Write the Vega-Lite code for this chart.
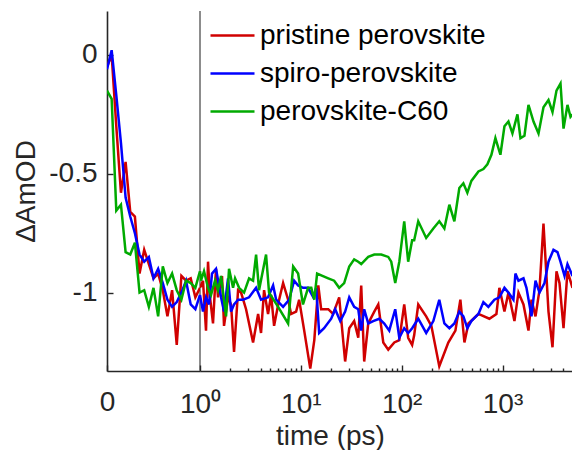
{
  "$schema": "https://vega.github.io/schema/vega-lite/v6.json",
  "background": "white",
  "padding": {"left": 12, "top": 10, "right": 0, "bottom": 0},
  "bounds": "flush",
  "spacing": 0,
  "config": {
    "view": {"stroke": null},
    "font": "Liberation Sans",
    "axis": {
      "labelFont": "Liberation Sans", "titleFont": "Liberation Sans",
      "labelFontSize": 28, "titleFontSize": 28, "titleFontWeight": "normal",
      "labelColor": "#262626", "titleColor": "#262626",
      "domainColor": "#262626", "tickColor": "#262626",
      "domainWidth": 1.6, "tickWidth": 1.4, "grid": false,
      "labelFlush": false, "labelOverlap": false
    },
    "legend": {
      "labelFont": "Liberation Sans", "labelFontSize": 28, "labelColor": "#000000",
      "symbolType": "stroke", "symbolSize": 1936, "symbolStrokeWidth": 2.5,
      "rowPadding": -10, "labelOffset": 4, "padding": 0, "labelLimit": 400
    }
  },
  "datasets": {
    "d": [
      {"s":"pristine perovskite","t":0,"v":-0.05},{"s":"pristine perovskite","t":0.05,"v":0.0},{"s":"pristine perovskite","t":0.1,"v":-0.3},{"s":"pristine perovskite","t":0.15,"v":-0.58},{"s":"pristine perovskite","t":0.2,"v":-0.45},{"s":"pristine perovskite","t":0.25,"v":-0.66},{"s":"pristine perovskite","t":0.3,"v":-0.68},{"s":"pristine perovskite","t":0.35,"v":-0.92},{"s":"pristine perovskite","t":0.4,"v":-0.82},{"s":"pristine perovskite","t":0.45,"v":-0.88},{"s":"pristine perovskite","t":0.5,"v":-0.94},{"s":"pristine perovskite","t":0.55,"v":-0.92},{"s":"pristine perovskite","t":0.6,"v":-0.99},{"s":"pristine perovskite","t":0.65,"v":-1.1},{"s":"pristine perovskite","t":0.7,"v":-0.99},{"s":"pristine perovskite","t":0.75,"v":-1.22},{"s":"pristine perovskite","t":0.8,"v":-0.93},{"s":"pristine perovskite","t":0.85,"v":-0.95},{"s":"pristine perovskite","t":0.9,"v":-0.94},{"s":"pristine perovskite","t":0.95,"v":-1.02},{"s":"pristine perovskite","t":1,"v":-0.98},
      {"s":"pristine perovskite","t":1.071,"v":-0.95},{"s":"pristine perovskite","t":1.147,"v":-1.16},{"s":"pristine perovskite","t":1.201,"v":-0.87},{"s":"pristine perovskite","t":1.257,"v":-1.02},{"s":"pristine perovskite","t":1.346,"v":-1.13},{"s":"pristine perovskite","t":1.442,"v":-0.9},{"s":"pristine perovskite","t":1.509,"v":-1.02},{"s":"pristine perovskite","t":1.653,"v":-0.93},{"s":"pristine perovskite","t":1.731,"v":-1.14},{"s":"pristine perovskite","t":1.897,"v":-1.02},{"s":"pristine perovskite","t":2.032,"v":-1.05},{"s":"pristine perovskite","t":2.176,"v":-1.25},{"s":"pristine perovskite","t":2.385,"v":-0.99},{"s":"pristine perovskite","t":2.554,"v":-1.0},{"s":"pristine perovskite","t":2.863,"v":-1.07},{"s":"pristine perovskite","t":3.36,"v":-1.21},{"s":"pristine perovskite","t":3.77,"v":-1.09},{"s":"pristine perovskite","t":4.03,"v":-1.17},{"s":"pristine perovskite","t":4.32,"v":-0.99},{"s":"pristine perovskite","t":4.73,"v":-1.09},{"s":"pristine perovskite","t":5.07,"v":-1.01},{"s":"pristine perovskite","t":5.43,"v":-1.14},{"s":"pristine perovskite","t":6.09,"v":-1.03},{"s":"pristine perovskite","t":6.67,"v":-0.96},{"s":"pristine perovskite","t":7.48,"v":-1.03},{"s":"pristine perovskite","t":8.01,"v":-1.09},{"s":"pristine perovskite","t":8.98,"v":-1.08},{"s":"pristine perovskite","t":9.62,"v":-1.03},{"s":"pristine perovskite","t":10.8,"v":-1.16},{"s":"pristine perovskite","t":12.4,"v":-1.32},{"s":"pristine perovskite","t":13.6,"v":-1.2},{"s":"pristine perovskite","t":14.9,"v":-0.97},{"s":"pristine perovskite","t":15.9,"v":-1.07},{"s":"pristine perovskite","t":18.7,"v":-1.07},{"s":"pristine perovskite","t":20.9,"v":-1.09},{"s":"pristine perovskite","t":24.0,"v":-1.02},{"s":"pristine perovskite","t":27.5,"v":-1.29},{"s":"pristine perovskite","t":30.2,"v":-1.15},{"s":"pristine perovskite","t":33.8,"v":-1.12},{"s":"pristine perovskite","t":37.1,"v":-1.19},{"s":"pristine perovskite","t":39.7,"v":-0.97},{"s":"pristine perovskite","t":42.5,"v":-1.29},{"s":"pristine perovskite","t":46.6,"v":-1.13},{"s":"pristine perovskite","t":53.5,"v":-1.08},{"s":"pristine perovskite","t":58.6,"v":-1.05},{"s":"pristine perovskite","t":65.7,"v":-1.21},{"s":"pristine perovskite","t":73.6,"v":-1.24},{"s":"pristine perovskite","t":84.5,"v":-1.21},{"s":"pristine perovskite","t":94.7,"v":-1.2},{"s":"pristine perovskite","t":106,"v":-1.05},{"s":"pristine perovskite","t":116,"v":-1.19},{"s":"pristine perovskite","t":127,"v":-1.22},{"s":"pristine perovskite","t":133,"v":-1.18},{"s":"pristine perovskite","t":146,"v":-1.05},{"s":"pristine perovskite","t":175,"v":-1.1},{"s":"pristine perovskite","t":197,"v":-1.14},{"s":"pristine perovskite","t":236,"v":-1.31},{"s":"pristine perovskite","t":290,"v":-1.21},{"s":"pristine perovskite","t":341,"v":-1.16},{"s":"pristine perovskite","t":382,"v":-1.03},{"s":"pristine perovskite","t":419,"v":-1.21},{"s":"pristine perovskite","t":459,"v":-1.13},{"s":"pristine perovskite","t":577,"v":-1.09},{"s":"pristine perovskite","t":741,"v":-1.11},{"s":"pristine perovskite","t":870,"v":-1.09},{"s":"pristine perovskite","t":931,"v":-0.98},{"s":"pristine perovskite","t":1045,"v":-1.08},{"s":"pristine perovskite","t":1145,"v":-1.0},{"s":"pristine perovskite","t":1313,"v":-1.12},{"s":"pristine perovskite","t":1439,"v":-1.0},{"s":"pristine perovskite","t":1614,"v":-1.05},{"s":"pristine perovskite","t":1809,"v":-1.16},{"s":"pristine perovskite","t":1938,"v":-1.03},{"s":"pristine perovskite","t":2124,"v":-1.1},{"s":"pristine perovskite","t":2325,"v":-0.99},{"s":"pristine perovskite","t":2548,"v":-0.71},{"s":"pristine perovskite","t":2857,"v":-1.08},{"s":"pristine perovskite","t":3131,"v":-1.23},{"s":"pristine perovskite","t":3430,"v":-0.91},{"s":"pristine perovskite","t":3674,"v":-0.96},{"s":"pristine perovskite","t":4027,"v":-1.15},{"s":"pristine perovskite","t":4406,"v":-0.91},{"s":"pristine perovskite","t":4943,"v":-0.98},
      {"s":"spiro-perovskite","t":0,"v":-0.06},{"s":"spiro-perovskite","t":0.05,"v":0.02},{"s":"spiro-perovskite","t":0.1,"v":-0.17},{"s":"spiro-perovskite","t":0.15,"v":-0.37},{"s":"spiro-perovskite","t":0.2,"v":-0.6},{"s":"spiro-perovskite","t":0.25,"v":-0.68},{"s":"spiro-perovskite","t":0.3,"v":-0.75},{"s":"spiro-perovskite","t":0.35,"v":-0.84},{"s":"spiro-perovskite","t":0.4,"v":-0.87},{"s":"spiro-perovskite","t":0.45,"v":-0.85},{"s":"spiro-perovskite","t":0.5,"v":-0.94},{"s":"spiro-perovskite","t":0.55,"v":-0.9},{"s":"spiro-perovskite","t":0.6,"v":-0.96},{"s":"spiro-perovskite","t":0.65,"v":-1.03},{"s":"spiro-perovskite","t":0.7,"v":-1.06},{"s":"spiro-perovskite","t":0.75,"v":-1.04},{"s":"spiro-perovskite","t":0.8,"v":-1.0},{"s":"spiro-perovskite","t":0.85,"v":-0.95},{"s":"spiro-perovskite","t":0.9,"v":-1.05},{"s":"spiro-perovskite","t":0.95,"v":-1.07},{"s":"spiro-perovskite","t":1,"v":-1.01},
      {"s":"spiro-perovskite","t":1.071,"v":-1.08},{"s":"spiro-perovskite","t":1.147,"v":-1.02},{"s":"spiro-perovskite","t":1.229,"v":-1.05},{"s":"spiro-perovskite","t":1.316,"v":-0.92},{"s":"spiro-perovskite","t":1.442,"v":-0.9},{"s":"spiro-perovskite","t":1.617,"v":-1.02},{"s":"spiro-perovskite","t":1.731,"v":-1.08},{"s":"spiro-perovskite","t":1.897,"v":-0.94},{"s":"spiro-perovskite","t":2.032,"v":-1.08},{"s":"spiro-perovskite","t":2.176,"v":-1.05},{"s":"spiro-perovskite","t":2.385,"v":-1.03},{"s":"spiro-perovskite","t":2.673,"v":-1.03},{"s":"spiro-perovskite","t":3.067,"v":-1.02},{"s":"spiro-perovskite","t":3.6,"v":-0.98},{"s":"spiro-perovskite","t":4.03,"v":-1.03},{"s":"spiro-perovskite","t":4.73,"v":-1.02},{"s":"spiro-perovskite","t":5.31,"v":-0.97},{"s":"spiro-perovskite","t":5.69,"v":-1.03},{"s":"spiro-perovskite","t":6.67,"v":-1.06},{"s":"spiro-perovskite","t":7.65,"v":-1.03},{"s":"spiro-perovskite","t":8.58,"v":-0.95},{"s":"spiro-perovskite","t":9.4,"v":-0.97},{"s":"spiro-perovskite","t":10.5,"v":-0.98},{"s":"spiro-perovskite","t":11.8,"v":-0.98},{"s":"spiro-perovskite","t":13.3,"v":-1.02},{"s":"spiro-perovskite","t":14.2,"v":-0.98},{"s":"spiro-perovskite","t":15.2,"v":-1.17},{"s":"spiro-perovskite","t":17.0,"v":-1.15},{"s":"spiro-perovskite","t":20.0,"v":-1.11},{"s":"spiro-perovskite","t":21.9,"v":-1.07},{"s":"spiro-perovskite","t":24.6,"v":-1.12},{"s":"spiro-perovskite","t":27.5,"v":-1.08},{"s":"spiro-perovskite","t":30.2,"v":-1.02},{"s":"spiro-perovskite","t":33.8,"v":-1.06},{"s":"spiro-perovskite","t":37.1,"v":-1.07},{"s":"spiro-perovskite","t":39.7,"v":-1.16},{"s":"spiro-perovskite","t":42.5,"v":-1.07},{"s":"spiro-perovskite","t":46.6,"v":-1.13},{"s":"spiro-perovskite","t":52.2,"v":-1.12},{"s":"spiro-perovskite","t":59.9,"v":-1.11},{"s":"spiro-perovskite","t":67.2,"v":-1.13},{"s":"spiro-perovskite","t":75.3,"v":-1.16},{"s":"spiro-perovskite","t":86.3,"v":-1.07},{"s":"spiro-perovskite","t":94.7,"v":-1.19},{"s":"spiro-perovskite","t":106,"v":-1.15},{"s":"spiro-perovskite","t":116,"v":-1.17},{"s":"spiro-perovskite","t":127,"v":-1.15},{"s":"spiro-perovskite","t":146,"v":-1.11},{"s":"spiro-perovskite","t":175,"v":-1.17},{"s":"spiro-perovskite","t":206,"v":-1.12},{"s":"spiro-perovskite","t":236,"v":-1.03},{"s":"spiro-perovskite","t":265,"v":-1.13},{"s":"spiro-perovskite","t":297,"v":-1.15},{"s":"spiro-perovskite","t":333,"v":-1.13},{"s":"spiro-perovskite","t":373,"v":-1.08},{"s":"spiro-perovskite","t":409,"v":-1.1},{"s":"spiro-perovskite","t":448,"v":-1.15},{"s":"spiro-perovskite","t":491,"v":-1.12},{"s":"spiro-perovskite","t":577,"v":-1.09},{"s":"spiro-perovskite","t":646,"v":-1.04},{"s":"spiro-perovskite","t":724,"v":-1.06},{"s":"spiro-perovskite","t":831,"v":-1.03},{"s":"spiro-perovskite","t":931,"v":-1.02},{"s":"spiro-perovskite","t":1045,"v":-0.98},{"s":"spiro-perovskite","t":1145,"v":-1.0},{"s":"spiro-perovskite","t":1283,"v":-1.03},{"s":"spiro-perovskite","t":1343,"v":-0.92},{"s":"spiro-perovskite","t":1439,"v":-0.95},{"s":"spiro-perovskite","t":1614,"v":-0.94},{"s":"spiro-perovskite","t":1728,"v":-0.98},{"s":"spiro-perovskite","t":1938,"v":-1.1},{"s":"spiro-perovskite","t":2124,"v":-0.95},{"s":"spiro-perovskite","t":2325,"v":-1.0},{"s":"spiro-perovskite","t":2608,"v":-0.96},{"s":"spiro-perovskite","t":2857,"v":-0.87},{"s":"spiro-perovskite","t":3201,"v":-0.82},{"s":"spiro-perovskite","t":3509,"v":-0.83},{"s":"spiro-perovskite","t":3758,"v":-0.87},{"s":"spiro-perovskite","t":4120,"v":-0.93},{"s":"spiro-perovskite","t":4406,"v":-0.88},{"s":"spiro-perovskite","t":4943,"v":-0.93},
      {"s":"perovskite-C60","t":0,"v":-0.15},{"s":"perovskite-C60","t":0.05,"v":-0.185},{"s":"perovskite-C60","t":0.1,"v":-0.655},{"s":"perovskite-C60","t":0.15,"v":-0.63},{"s":"perovskite-C60","t":0.2,"v":-0.83},{"s":"perovskite-C60","t":0.25,"v":-0.84},{"s":"perovskite-C60","t":0.3,"v":-0.79},{"s":"perovskite-C60","t":0.35,"v":-1.0},{"s":"perovskite-C60","t":0.4,"v":-0.99},{"s":"perovskite-C60","t":0.45,"v":-1.06},{"s":"perovskite-C60","t":0.5,"v":-0.98},{"s":"perovskite-C60","t":0.55,"v":-1.1},{"s":"perovskite-C60","t":0.6,"v":-0.89},{"s":"perovskite-C60","t":0.65,"v":-0.96},{"s":"perovskite-C60","t":0.7,"v":-0.92},{"s":"perovskite-C60","t":0.75,"v":-0.99},{"s":"perovskite-C60","t":0.8,"v":-1.03},{"s":"perovskite-C60","t":0.85,"v":-0.95},{"s":"perovskite-C60","t":0.9,"v":-0.96},{"s":"perovskite-C60","t":0.95,"v":-0.98},{"s":"perovskite-C60","t":1,"v":-0.91},
      {"s":"perovskite-C60","t":1.023,"v":-0.95},{"s":"perovskite-C60","t":1.096,"v":-0.91},{"s":"perovskite-C60","t":1.201,"v":-0.98},{"s":"perovskite-C60","t":1.286,"v":-1.01},{"s":"perovskite-C60","t":1.409,"v":-0.95},{"s":"perovskite-C60","t":1.509,"v":-0.99},{"s":"perovskite-C60","t":1.617,"v":-0.93},{"s":"perovskite-C60","t":1.812,"v":-1.1},{"s":"perovskite-C60","t":1.941,"v":-0.9},{"s":"perovskite-C60","t":2.127,"v":-0.98},{"s":"perovskite-C60","t":2.227,"v":-0.94},{"s":"perovskite-C60","t":2.44,"v":-0.98},{"s":"perovskite-C60","t":2.735,"v":-1.0},{"s":"perovskite-C60","t":3.067,"v":-0.94},{"s":"perovskite-C60","t":3.36,"v":-0.95},{"s":"perovskite-C60","t":3.6,"v":-0.84},{"s":"perovskite-C60","t":3.85,"v":-0.99},{"s":"perovskite-C60","t":4.52,"v":-0.84},{"s":"perovskite-C60","t":4.84,"v":-1.0},{"s":"perovskite-C60","t":5.95,"v":-1.06},{"s":"perovskite-C60","t":7.48,"v":-1.13},{"s":"perovskite-C60","t":8.39,"v":-0.89},{"s":"perovskite-C60","t":9.4,"v":-0.92},{"s":"perovskite-C60","t":10.5,"v":-1.05},{"s":"perovskite-C60","t":11.8,"v":-0.98},{"s":"perovskite-C60","t":12.7,"v":-0.98},{"s":"perovskite-C60","t":13.6,"v":-1.03},{"s":"perovskite-C60","t":14.5,"v":-0.92},{"s":"perovskite-C60","t":18.7,"v":-0.94},{"s":"perovskite-C60","t":21.4,"v":-0.95},{"s":"perovskite-C60","t":24.0,"v":-0.98},{"s":"perovskite-C60","t":26.9,"v":-0.96},{"s":"perovskite-C60","t":30.2,"v":-0.89},{"s":"perovskite-C60","t":33.8,"v":-0.86},{"s":"perovskite-C60","t":37.1,"v":-0.87},{"s":"perovskite-C60","t":39.7,"v":-0.88},{"s":"perovskite-C60","t":46.6,"v":-0.85},{"s":"perovskite-C60","t":53.5,"v":-0.84},{"s":"perovskite-C60","t":62.7,"v":-0.84},{"s":"perovskite-C60","t":73.6,"v":-0.85},{"s":"perovskite-C60","t":78.8,"v":-0.87},{"s":"perovskite-C60","t":86.3,"v":-0.96},{"s":"perovskite-C60","t":94.7,"v":-0.87},{"s":"perovskite-C60","t":106,"v":-0.7},{"s":"perovskite-C60","t":116,"v":-0.87},{"s":"perovskite-C60","t":127,"v":-0.78},{"s":"perovskite-C60","t":133,"v":-0.78},{"s":"perovskite-C60","t":146,"v":-0.7},{"s":"perovskite-C60","t":175,"v":-0.77},{"s":"perovskite-C60","t":206,"v":-0.73},{"s":"perovskite-C60","t":236,"v":-0.7},{"s":"perovskite-C60","t":265,"v":-0.73},{"s":"perovskite-C60","t":297,"v":-0.63},{"s":"perovskite-C60","t":333,"v":-0.7},{"s":"perovskite-C60","t":373,"v":-0.56},{"s":"perovskite-C60","t":409,"v":-0.54},{"s":"perovskite-C60","t":448,"v":-0.58},{"s":"perovskite-C60","t":491,"v":-0.53},{"s":"perovskite-C60","t":577,"v":-0.49},{"s":"perovskite-C60","t":646,"v":-0.48},{"s":"perovskite-C60","t":708,"v":-0.46},{"s":"perovskite-C60","t":776,"v":-0.42},{"s":"perovskite-C60","t":850,"v":-0.35},{"s":"perovskite-C60","t":953,"v":-0.42},{"s":"perovskite-C60","t":1045,"v":-0.3},{"s":"perovskite-C60","t":1145,"v":-0.28},{"s":"perovskite-C60","t":1254,"v":-0.33},{"s":"perovskite-C60","t":1406,"v":-0.25},{"s":"perovskite-C60","t":1507,"v":-0.35},{"s":"perovskite-C60","t":1650,"v":-0.34},{"s":"perovskite-C60","t":1809,"v":-0.21},{"s":"perovskite-C60","t":2029,"v":-0.28},{"s":"perovskite-C60","t":2275,"v":-0.33},{"s":"perovskite-C60","t":2548,"v":-0.22},{"s":"perovskite-C60","t":2857,"v":-0.19},{"s":"perovskite-C60","t":3131,"v":-0.24},{"s":"perovskite-C60","t":3430,"v":-0.15},{"s":"perovskite-C60","t":3758,"v":-0.12},{"s":"perovskite-C60","t":4027,"v":-0.31},{"s":"perovskite-C60","t":4406,"v":-0.21},{"s":"perovskite-C60","t":4723,"v":-0.26},{"s":"perovskite-C60","t":4943,"v":-0.25}
    ]
  },
  "resolve": {"scale": {"color": "independent"}, "legend": {"color": "independent"}},
  "hconcat": [
    {
      "width": 93, "height": 360,
      "data": {"name": "d"},
      "transform": [{"filter": "datum.t <= 1"}],
      "layer": [
        {"mark": {"type": "rule", "color": "#8c8c8c", "strokeWidth": 1}, "encoding": {"x": {"datum": 1, "type": "quantitative"}}},
        {
          "mark": {"type": "line", "strokeWidth": 2.5, "clip": true},
          "encoding": {
            "x": {"field": "t", "type": "quantitative",
                  "scale": {"domain": [0, 1], "nice": false, "zero": false},
                  "axis": {"values": [0], "labelExpr": "'0'", "tickSize": -6, "labelPadding": 23, "title": null}},
            "y": {"field": "v", "type": "quantitative",
                  "scale": {"domain": [-1.33, 0.185], "nice": false, "zero": false},
                  "axis": {"values": [0, -0.5, -1], "labelExpr": "datum.value == 0 ? '0' : datum.value == -1 ? '-1' : '-0.5'",
                           "tickSize": -6, "labelPadding": 16, "title": "ΔAmOD", "titlePadding": 8}},
            "color": {"field": "s", "type": "nominal",
                      "scale": {"domain": ["pristine perovskite", "spiro-perovskite", "perovskite-C60"], "range": ["#d00000", "#0000ff", "#00aa00"]},
                      "legend": null}
          }
        }
      ]
    },
    {
      "width": 373, "height": 360,
      "data": {"name": "d"},
      "transform": [{"filter": "datum.t >= 1"}],
      "mark": {"type": "line", "strokeWidth": 2.5, "clip": true},
      "encoding": {
        "x": {"field": "t", "type": "quantitative",
              "scale": {"type": "log", "domain": [1, 5000], "nice": false},
              "axis": {"values": [1,2,3,4,5,6,7,8,9,10,20,30,40,50,60,70,80,90,100,200,300,400,500,600,700,800,900,1000,2000,3000,4000,5000],
                       "labelExpr": "datum.value == 1 ? '10⁰' : datum.value == 10 ? '10¹' : datum.value == 100 ? '10²' : datum.value == 1000 ? '10³' : ''",
                       "tickSize": {"condition": {"test": "datum.value == 1 || datum.value == 10 || datum.value == 100 || datum.value == 1000", "value": -6}, "value": -3},
                       "labelPadding": 25, "title": "time (ps)", "titleX": 130, "titlePadding": 1}},
        "y": {"field": "v", "type": "quantitative",
              "scale": {"domain": [-1.33, 0.185], "nice": false, "zero": false},
              "axis": null},
        "color": {"field": "s", "type": "nominal",
                  "scale": {"domain": ["pristine perovskite", "spiro-perovskite", "perovskite-C60"], "range": ["#d00000", "#0000ff", "#00aa00"]},
                  "legend": {"title": null, "orient": "none", "legendX": 9, "legendY": 1}}
      }
    }
  ]
}
